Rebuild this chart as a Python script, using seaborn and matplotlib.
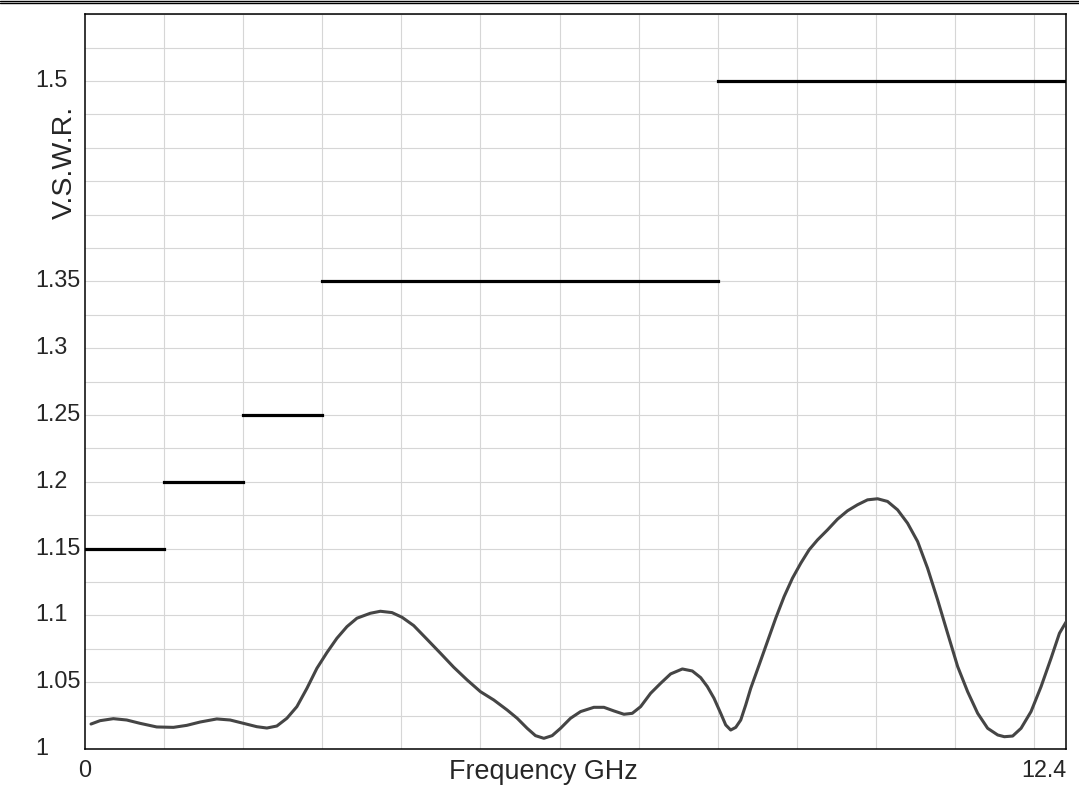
import numpy as np
import pandas as pd
import seaborn as sns
import matplotlib.pyplot as plt
import matplotlib.transforms as mtransforms
from matplotlib.lines import Line2D

freq_ghz = [0.080, 0.194, 0.362, 0.531, 0.700, 0.910, 1.121, 1.290, 1.459, 1.669,
            1.838, 2.007, 2.175, 2.302, 2.428, 2.555, 2.681, 2.808, 2.934, 3.061,
            3.187, 3.314, 3.440, 3.609, 3.736, 3.883, 4.010, 4.157, 4.326, 4.495,
            4.663, 4.832, 5.001, 5.169, 5.338, 5.465, 5.591, 5.696, 5.802, 5.907,
            6.013, 6.139, 6.266, 6.434, 6.561, 6.687, 6.814, 6.919, 7.025, 7.151,
            7.278, 7.404, 7.552, 7.678, 7.784, 7.868, 7.952, 8.037, 8.100, 8.163,
            8.227, 8.290, 8.353, 8.416, 8.522, 8.627, 8.732, 8.838, 8.943, 9.049,
            9.154, 9.260, 9.386, 9.512, 9.639, 9.765, 9.892, 10.019, 10.145, 10.272,
            10.398, 10.525, 10.651, 10.778, 10.904, 11.031, 11.157, 11.284, 11.410,
            11.537, 11.621, 11.726, 11.832, 11.958, 12.085, 12.211, 12.317, 12.400]
vswr = [1.0187, 1.0212, 1.0227, 1.0217, 1.0192, 1.0165, 1.0162, 1.0177, 1.0202, 1.0225,
        1.0217, 1.0192, 1.0167, 1.0157, 1.0172, 1.0230, 1.0317, 1.0454, 1.0604, 1.0722,
        1.0829, 1.0916, 1.0979, 1.1016, 1.1031, 1.1021, 1.0986, 1.0924, 1.0821, 1.0717,
        1.0612, 1.0517, 1.0429, 1.0367, 1.0292, 1.0230, 1.0155, 1.0100, 1.0080, 1.0100,
        1.0155, 1.0230, 1.0280, 1.0312, 1.0312, 1.0285, 1.0260, 1.0267, 1.0317, 1.0417,
        1.0492, 1.0562, 1.0599, 1.0584, 1.0534, 1.0467, 1.0380, 1.0267, 1.0180, 1.0142,
        1.0162, 1.0217, 1.0330, 1.0454, 1.0629, 1.0804, 1.0979, 1.1141, 1.1278, 1.1391,
        1.1491, 1.1565, 1.1640, 1.1720, 1.1783, 1.1828, 1.1865, 1.1873, 1.1853, 1.1790,
        1.1690, 1.1553, 1.1353, 1.1116, 1.0866, 1.0617, 1.0429, 1.0267, 1.0155,
        1.0105, 1.0092, 1.0097, 1.0155, 1.0280, 1.0467, 1.0679, 1.0866, 1.0950]

# spec limit steps
limit_start = [0, 1, 2, 3, 8]
limit_end = [1, 2, 3, 8, 12.4]
limit_vswr = [1.15, 1.2, 1.25, 1.35, 1.5]

ytick_vals = [1, 1.05, 1.1, 1.15, 1.2, 1.25, 1.3, 1.35, 1.5]
ytick_labels = ["1", "1.05", "1.1", "1.15", "1.2", "1.25", "1.3", "1.35", "1.5"]
xtick_vals = [0, 12.4]
xtick_labels = ["0", "12.4"]

df = pd.DataFrame({"freq": freq_ghz, "vswr": vswr})

sns.set_style("white")
plt.rcParams['font.family'] = ['Liberation Sans', 'DejaVu Sans']

W, H = 1079, 795
fig = plt.figure(figsize=(W / 100, H / 100), dpi=100)
ax = fig.add_axes([84.7 / W, 1 - 749 / H, (1066 - 84.7) / W, (749 - 14.2) / H])

# grid
for gx in np.arange(1, 13):
    ax.axvline(gx, color="#d6d6d6", lw=0.8, zorder=0)
for gy in np.arange(1.025, 1.55, 0.025):
    ax.axhline(gy, color="#d6d6d6", lw=0.8, zorder=0)

lc = ax.hlines(limit_vswr, limit_start, limit_end, colors="black", lw=2.3, zorder=3)
lc.set_capstyle("projecting")

sns.lineplot(data=df, x="freq", y="vswr", ax=ax, color="#454545", lw=2.2,
             zorder=4, sort=False, solid_joinstyle="round", solid_capstyle="round")

ax.set_xlim(0, 12.4)
ax.set_ylim(1, 1.55)
ax.set_xticks(xtick_vals)
ax.set_xticklabels(xtick_labels, fontsize=16.8)
ax.set_yticks(ytick_vals)
ax.set_yticklabels(ytick_labels, fontsize=16.8)
ax.tick_params(axis="both", length=0)
ax.tick_params(axis="x", pad=7)
ax.tick_params(axis="y", pad=35.8)
ax.set_xlabel("")
ax.set_ylabel("")
for sp in ax.spines.values():
    sp.set_color("black")
    sp.set_linewidth(1.1)

# y labels are left aligned and sit a little above their grid lines
up = mtransforms.ScaledTranslation(0, 3 / 100, fig.dpi_scale_trans)
for lab in ax.get_yticklabels():
    lab.set_horizontalalignment("left")
    lab.set_transform(lab.get_transform() + up)
ax.get_xticklabels()[-1].set_horizontalalignment("right")

fig.text(543 / W, 1 - 779 / H, "Frequency GHz", fontsize=19.4,
         ha="center", va="baseline")
fig.text(64.7 / W, 1 - 162.5 / H, "V.S.W.R.", fontsize=20.5, rotation=90,
         ha="center", va="center")

# double rule at the top edge
fig.add_artist(Line2D([0, 1], [1 - 0.7 / H, 1 - 0.7 / H], color="black", lw=1.0))
fig.add_artist(Line2D([0, 1], [1 - 3.0 / H, 1 - 3.0 / H], color="black", lw=1.0))

fig.savefig("out.png", dpi=100)
